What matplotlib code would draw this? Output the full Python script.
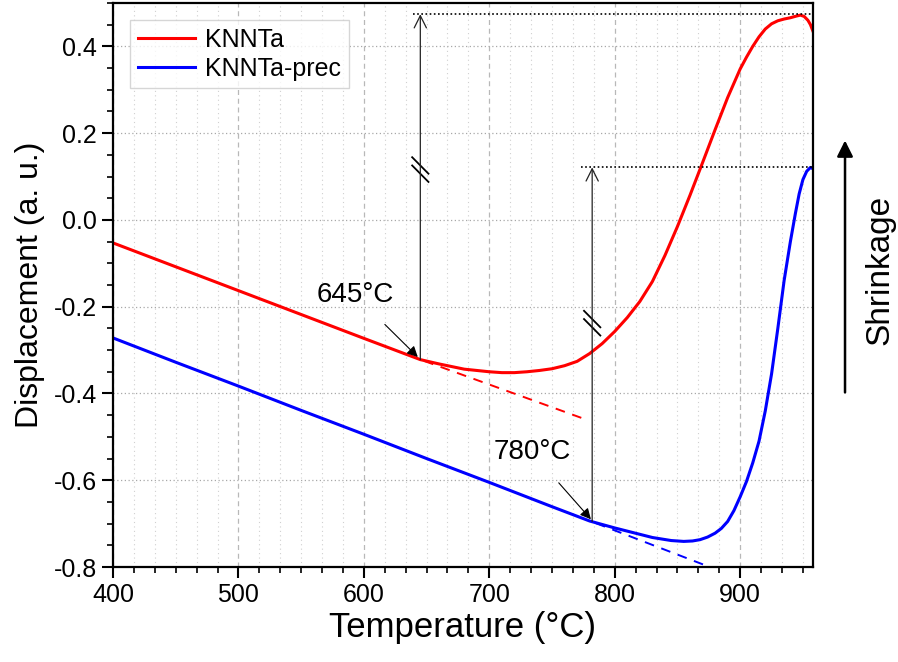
import numpy as np
import matplotlib
matplotlib.use("Agg")
import matplotlib.pyplot as plt
from matplotlib.ticker import MultipleLocator

plt.rcParams['font.family'] = ['Liberation Sans', 'DejaVu Sans']

# KNNTa (red)
t_knnta = [400, 450, 500, 550, 600, 645, 660, 680, 700, 710, 720, 730, 740, 750,
           760, 770, 780, 790, 800, 810, 820, 830, 840, 850, 860, 870, 880, 890,
           900, 905, 910, 915, 920, 925, 930, 935, 940, 945, 948, 951, 954, 956, 958]
d_knnta = [-0.053, -0.108, -0.163, -0.218, -0.273, -0.322, -0.332, -0.344, -0.350,
           -0.352, -0.352, -0.350, -0.347, -0.343, -0.336, -0.326, -0.308, -0.285,
           -0.257, -0.225, -0.188, -0.142, -0.082, -0.015, 0.057, 0.132, 0.208,
           0.282, 0.348, 0.375, 0.400, 0.422, 0.440, 0.452, 0.459, 0.463, 0.466,
           0.470, 0.472, 0.469, 0.460, 0.450, 0.435]

# KNNTa-prec (blue)
t_prec = [400, 450, 500, 550, 600, 650, 700, 750, 780, 800, 815, 830, 845, 855,
          862, 868, 874, 880, 885, 890, 895, 900, 905, 910, 915, 920, 925, 930,
          935, 940, 944, 947, 950, 953, 956, 958]
d_prec = [-0.272, -0.328, -0.383, -0.439, -0.494, -0.550, -0.605, -0.661, -0.694,
          -0.710, -0.721, -0.732, -0.739, -0.741, -0.740, -0.737, -0.731, -0.722,
          -0.711, -0.695, -0.670, -0.638, -0.603, -0.560, -0.510, -0.440, -0.355,
          -0.250, -0.140, -0.050, 0.015, 0.060, 0.093, 0.112, 0.121, 0.118]

# linear extrapolations (dashed)
t_knnta_ext = [648, 776]
d_knnta_ext = [-0.325, -0.459]
t_prec_ext = [785, 873]
d_prec_ext = [-0.699, -0.797]

# onset / step annotations
onset_knnta = (645, -0.322)
top_knnta = 0.474
onset_prec = (782, -0.695)
top_prec = 0.121

fig = plt.figure(figsize=(8.98, 6.62), dpi=100)
ax = fig.add_axes([0.1258, 0.1435, 0.7795, 0.852])

ax.set_xlim(400, 958)
ax.set_ylim(-0.8, 0.5)
ax.xaxis.set_major_locator(MultipleLocator(100))
ax.xaxis.set_minor_locator(MultipleLocator(100 / 6))
ax.yaxis.set_major_locator(MultipleLocator(0.2))
ax.yaxis.set_minor_locator(MultipleLocator(0.05))
ax.yaxis.set_major_formatter(plt.FuncFormatter(lambda v, p: f"{v:.1f}"))

ax.grid(axis='x', which='minor', ls=(0, (1, 3)), color='#d0d0d0', lw=0.8)
ax.grid(axis='x', which='major', ls=(0, (4, 3)), color='#b8b8b8', lw=0.9)
ax.grid(axis='y', which='major', ls=(0, (1, 2)), color='#a8a8a8', lw=0.9)
ax.set_axisbelow(True)

for s in ax.spines.values():
    s.set_linewidth(1.6)
ax.tick_params(which='major', direction='out', length=8, width=1.5, labelsize=18)
ax.tick_params(which='minor', direction='out', length=4, width=1.2)
ax.tick_params(top=False, right=False)

ax.plot(t_knnta, d_knnta, color='#ff0000', lw=2.2, label='KNNTa')
ax.plot(t_prec, d_prec, color='#0000ff', lw=2.2, label='KNNTa-prec')
ax.plot(t_knnta_ext, d_knnta_ext, color='#ff0000', lw=1.4, ls=(0, (5, 4)))
ax.plot(t_prec_ext, d_prec_ext, color='#0000ff', lw=1.4, ls=(0, (5, 4)))

# dotted level lines
ax.plot([639, 958], [top_knnta, top_knnta], color='black', lw=1.2, ls=(0, (1, 1.5)))
ax.plot([773, 958], [top_prec, top_prec], color='black', lw=1.2, ls=(0, (1, 1.5)))

# vertical step arrows
for (tx, ty), top in [(onset_knnta, top_knnta), (onset_prec, top_prec)]:
    ax.annotate('', xy=(tx, top), xytext=(tx, ty),
                arrowprops=dict(arrowstyle='->', lw=0.9, color='#222222',
                                mutation_scale=22, shrinkA=0, shrinkB=0))

# break marks on the arrows
for tx, yc in [(onset_knnta[0], 0.116), (onset_prec[0], -0.238)]:
    for off in (0.0095, -0.0095):
        ax.plot([tx - 6.5, tx + 6.5], [yc + off + 0.019, yc + off - 0.019],
                color='black', lw=1.3)

ax.annotate('645°C', xy=(643, -0.316), xytext=(593, -0.173), fontsize=20,
            ha='center', va='center',
            arrowprops=dict(arrowstyle='-|>', lw=0.8, color='black',
                            mutation_scale=16, shrinkA=14, shrinkB=0))
ax.annotate('780°C', xy=(781, -0.690), xytext=(734, -0.536), fontsize=20,
            ha='center', va='center',
            arrowprops=dict(arrowstyle='-|>', lw=0.8, color='black',
                            mutation_scale=16, shrinkA=14, shrinkB=0))

ax.set_xlabel('Temperature (°C)', fontsize=25, labelpad=3)
ax.set_ylabel('Displacement (a. u.)', fontsize=23, labelpad=6)

leg = ax.legend(loc='upper left', fontsize=18, frameon=True, fancybox=False,
                handlelength=2.3, borderaxespad=0.7, borderpad=0.3,
                labelspacing=0.2, handletextpad=0.4)
leg.get_frame().set_edgecolor('#cccccc')
leg.get_frame().set_linewidth(1.0)

# shrinkage direction
fig.patches.append(matplotlib.patches.FancyArrowPatch(
    (0.941, 0.403), (0.941, 0.792), transform=fig.transFigure,
    arrowstyle='-|>', mutation_scale=24, lw=1.8, color='black'))
fig.text(0.98, 0.592, 'Shrinkage', rotation=90, fontsize=24,
         ha='center', va='center')

fig.savefig('out.png', dpi=100)
